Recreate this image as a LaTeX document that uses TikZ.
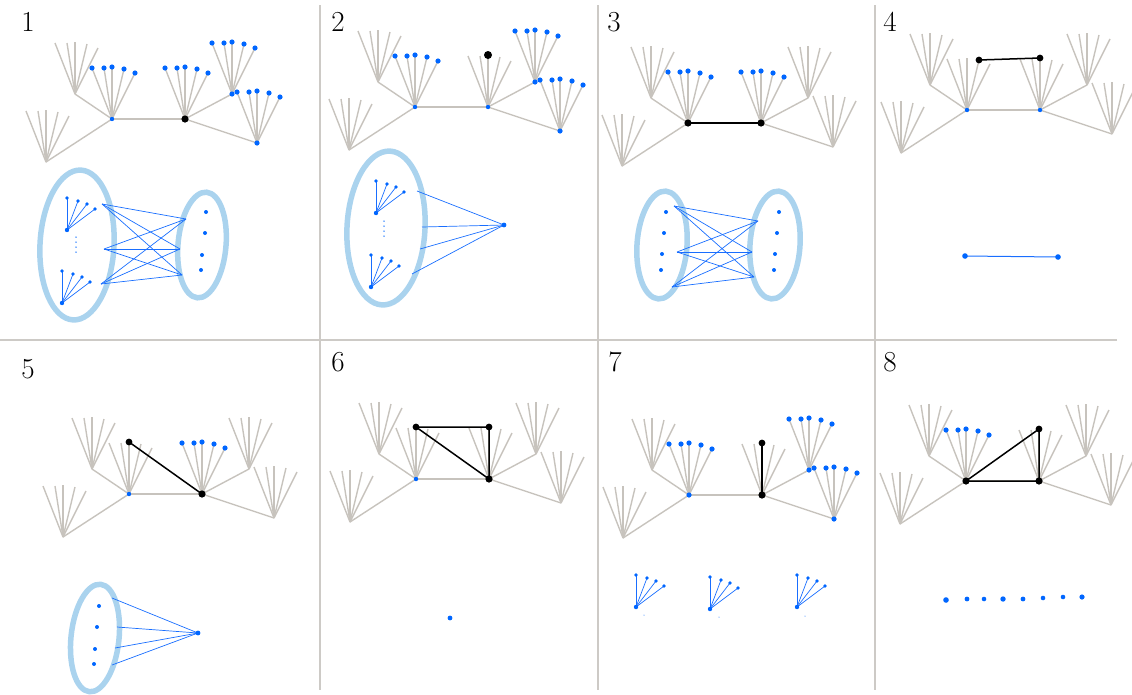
\documentclass[tikz,border=0pt]{standalone}
\usepackage{xcolor}
\usepackage{tikz}

\definecolor{twiggray}{RGB}{199,195,189}
\definecolor{dotblue}{RGB}{0,102,255}
\definecolor{ringblue}{RGB}{170,211,238}
\definecolor{linkblue}{RGB}{25,110,255}
\definecolor{rulegray}{RGB}{205,202,198}

% five twigs above an apex, tips named <apex>-1 .. <apex>-5
\newcommand\fanout[1]{%
  \foreach \k/\dx/\dy in {1/-20/-51,2/-8/-51,3/0/-52,4/12/-50,5/23/-46}{%
    \path[shift={(#1)}] (\dx,\dy) coordinate (#1-\k);
    \draw[twig] (#1) -- (#1-\k);
  }}
% the whole gray tree, prefix #1, left hub at (#2,#3)
\newcommand\tree[3]{%
  \coordinate (#1-l) at (#2,#3);
  \coordinate (#1-r) at (#2+73,#3);
  \coordinate (#1-lu) at (#2-37,#3-25);
  \coordinate (#1-ld) at (#2-66,#3+43);
  \coordinate (#1-ru) at (#2+120,#3-25);
  \coordinate (#1-rd) at (#2+145,#3+24);
  \draw[twig] (#1-lu) -- (#1-l) -- (#1-ld);
  \draw[twig] (#1-l) -- (#1-r);
  \draw[twig] (#1-ru) -- (#1-r) -- (#1-rd);
  \foreach \a in {l,r,lu,ld,ru,rd}{\fanout{#1-\a}}}
\newcommand\bluefan[1]{%
  \foreach \k in {1,...,5}{\fill[bdot] (#1-\k) circle[radius=2.6];}}
% small blue star of four links
\newcommand\minifan[3]{%
  \coordinate (#1) at (#2,#3);
  \foreach \k/\dx/\dy in {1/0/-32,2/11/-29,3/20/-26,4/28/-21}{%
    \path[shift={(#1)}] (\dx,\dy) coordinate (#1-\k);
    \draw[link] (#1) -- (#1-\k);
    \fill[bdot] (#1-\k) circle[radius=1.8];
  }
  \fill[bdot] (#1) circle[radius=2.2];}

\begin{document}
\begin{tikzpicture}[x=1pt, y=-1pt,
  twig/.style={draw=twiggray, line width=1.4pt},
  rule/.style={draw=rulegray, line width=1.5pt},
  bond/.style={draw=black, line width=1.5pt},
  link/.style={draw=linkblue, line width=0.7pt},
  ring/.style={draw=ringblue, line width=5.5pt},
  bdot/.style={fill=dotblue},
  kdot/.style={fill=black},
  num/.style={font=\fontsize{29}{32}\selectfont, inner sep=0pt}
]
\useasboundingbox (0,0) rectangle (1132,694);

% frame
\draw[rule] (0,340) -- (1117,340);
\draw[rule] (320,5) -- (320,690);
\draw[rule] (598,5) -- (598,690);
\draw[rule] (875,5) -- (875,690);

\node[num] (n1) at (28,22) {1};
\node[num] (n2) at (338,22) {2};
\node[num] (n3) at (614,22) {3};
\node[num] (n4) at (890,22) {4};
\node[num] (n5) at (28,369) {5};
\node[num] (n6) at (338,362) {6};
\node[num] (n7) at (615,362) {7};
\node[num] (n8) at (890,362) {8};

% ---- 1
\tree{a}{112}{119}
\bluefan{a-l} \bluefan{a-r} \bluefan{a-ru} \bluefan{a-rd}
\fill[bdot] (a-l) circle[radius=2.2];
\fill[bdot] (a-ru) circle[radius=2.6];
\fill[bdot] (a-rd) circle[radius=2.6];
\fill[kdot] (a-r) circle[radius=3.6];
\draw[ring] (77,245) circle[x radius=37, y radius=75, rotate=-3];
\draw[ring] (202,245) circle[x radius=24, y radius=53, rotate=-5];
\minifan{a-s}{67}{230}
\minifan{a-t}{62}{303}
\foreach \t in {0,...,3}{\fill[bdot] (76,237+5*\t) circle[radius=0.75];}
\foreach \y/\x [count=\i] in {212/206,233/205,255/202,270/201}{\fill[bdot] (\x,\y) circle[radius=2];}
\coordinate (a-p1) at (102,204);
\coordinate (a-p2) at (104,249);
\coordinate (a-p3) at (101,284);
\coordinate (a-q1) at (186,219);
\coordinate (a-q2) at (180,249);
\coordinate (a-q3) at (182,275);
\foreach \i in {1,2,3}{\foreach \j in {1,2,3}{\draw[link] (a-p\i) -- (a-q\j);}}

% ---- 2
\tree{b}{415}{107}
\bluefan{b-l} \bluefan{b-ru} \bluefan{b-rd}
\fill[bdot] (b-l) circle[radius=2.2];
\fill[bdot] (b-r) circle[radius=2.2];
\fill[bdot] (b-ru) circle[radius=2.6];
\fill[bdot] (b-rd) circle[radius=2.6];
\fill[kdot] (b-r-3) circle[radius=4];
\draw[ring] (386,228) circle[x radius=39, y radius=77, rotate=-3];
\minifan{b-s}{376}{213}
\minifan{b-t}{371}{287}
\foreach \t in {0,...,3}{\fill[bdot] (384,221+5*\t) circle[radius=0.75];}
\coordinate (b-hub) at (504,225);
\foreach \x/\y in {417/191,422/227,420/249,412/274}{\draw[link] (\x,\y) -- (b-hub);}
\fill[bdot] (b-hub) circle[radius=2.4];

% ---- 3
\tree{c}{688}{123}
\draw[bond] (c-l) -- (c-r);
\bluefan{c-l} \bluefan{c-r}
\fill[kdot] (c-l) circle[radius=3.6];
\fill[kdot] (c-r) circle[radius=3.6];
\draw[ring] (662,245) circle[x radius=25, y radius=54, rotate=-4];
\draw[ring] (775,245) circle[x radius=25, y radius=54, rotate=-4];
\foreach \x/\y in {666/212,664/233,662/254,661/270,779/212,777/233,775/254,774/270}{\fill[bdot] (\x,\y) circle[radius=2];}
\coordinate (c-p1) at (674,206);
\coordinate (c-p2) at (677,252);
\coordinate (c-p3) at (672,287);
\coordinate (c-q1) at (758,221);
\coordinate (c-q2) at (752,252);
\coordinate (c-q3) at (754,277);
\foreach \i in {1,2,3}{\foreach \j in {1,2,3}{\draw[link] (c-p\i) -- (c-q\j);}}

% ---- 4
\tree{d}{967}{110}
\fill[bdot] (d-l) circle[radius=2.2];
\fill[bdot] (d-r) circle[radius=2.2];
\draw[bond] (d-l-4) -- (d-r-3);
\fill[kdot] (d-l-4) circle[radius=3.4];
\fill[kdot] (d-r-3) circle[radius=3.4];
\coordinate (d-u) at (965,256);
\coordinate (d-v) at (1058,257);
\draw[link, line width=1pt] (d-u) -- (d-v);
\fill[bdot] (d-u) circle[radius=2.8];
\fill[bdot] (d-v) circle[radius=2.8];

% ---- 5
\tree{e}{129}{494}
\draw[bond] (e-l-3) -- (e-r);
\bluefan{e-r}
\fill[bdot] (e-l) circle[radius=2.2];
\fill[kdot] (e-r) circle[radius=3.6];
\fill[kdot] (e-l-3) circle[radius=3.4];
\draw[ring] (95,638) circle[x radius=24, y radius=54, rotate=-6];
\foreach \x/\y in {99/606,97/627,95/649,94/664}{\fill[bdot] (\x,\y) circle[radius=2];}
\coordinate (e-hub) at (198,633);
\foreach \x/\y in {112/598,117/627,115/648,112/665}{\draw[link] (\x,\y) -- (e-hub);}
\fill[bdot] (e-hub) circle[radius=2.4];

% ---- 6
\tree{f}{416}{479}
\draw[bond] (f-l-3) -- (f-r-3) -- (f-r) -- cycle;
\fill[bdot] (f-l) circle[radius=2.2];
\fill[kdot] (f-r) circle[radius=3.6];
\fill[kdot] (f-l-3) circle[radius=3.4];
\fill[kdot] (f-r-3) circle[radius=3.4];
\fill[bdot] (450,618) circle[radius=2.4];

% ---- 7
\tree{g}{689}{495}
\draw[bond] (g-r) -- (g-r-3);
\bluefan{g-l} \bluefan{g-ru} \bluefan{g-rd}
\fill[bdot] (g-l) circle[radius=2.6];
\fill[bdot] (g-ru) circle[radius=2.6];
\fill[bdot] (g-rd) circle[radius=2.6];
\fill[kdot] (g-r) circle[radius=3.6];
\fill[kdot] (g-r-3) circle[radius=3.4];
\minifan{g-s}{636}{607}
\minifan{g-t}{710}{609}
\minifan{g-u}{797}{607}
\foreach \x/\y in {644/615,719/617,805/616}{\fill[bdot] (\x,\y) circle[radius=0.5];}

% ---- 8
\tree{h}{966}{481}
\draw[bond] (h-l) -- (h-r) -- (h-r-3) -- cycle;
\bluefan{h-l}
\fill[kdot] (h-l) circle[radius=3.6];
\fill[kdot] (h-r) circle[radius=3.6];
\fill[kdot] (h-r-3) circle[radius=3.4];
\foreach \x/\y/\s in {946/600/2.8,967/599/2.4,984/599/2.3,1003/599/2.7,1023/599/2.4,1043/598/2.3,1063/597/2.3,1082/597/2.6}{\fill[bdot] (\x,\y) circle[radius=\s];}
\end{tikzpicture}
\end{document}
